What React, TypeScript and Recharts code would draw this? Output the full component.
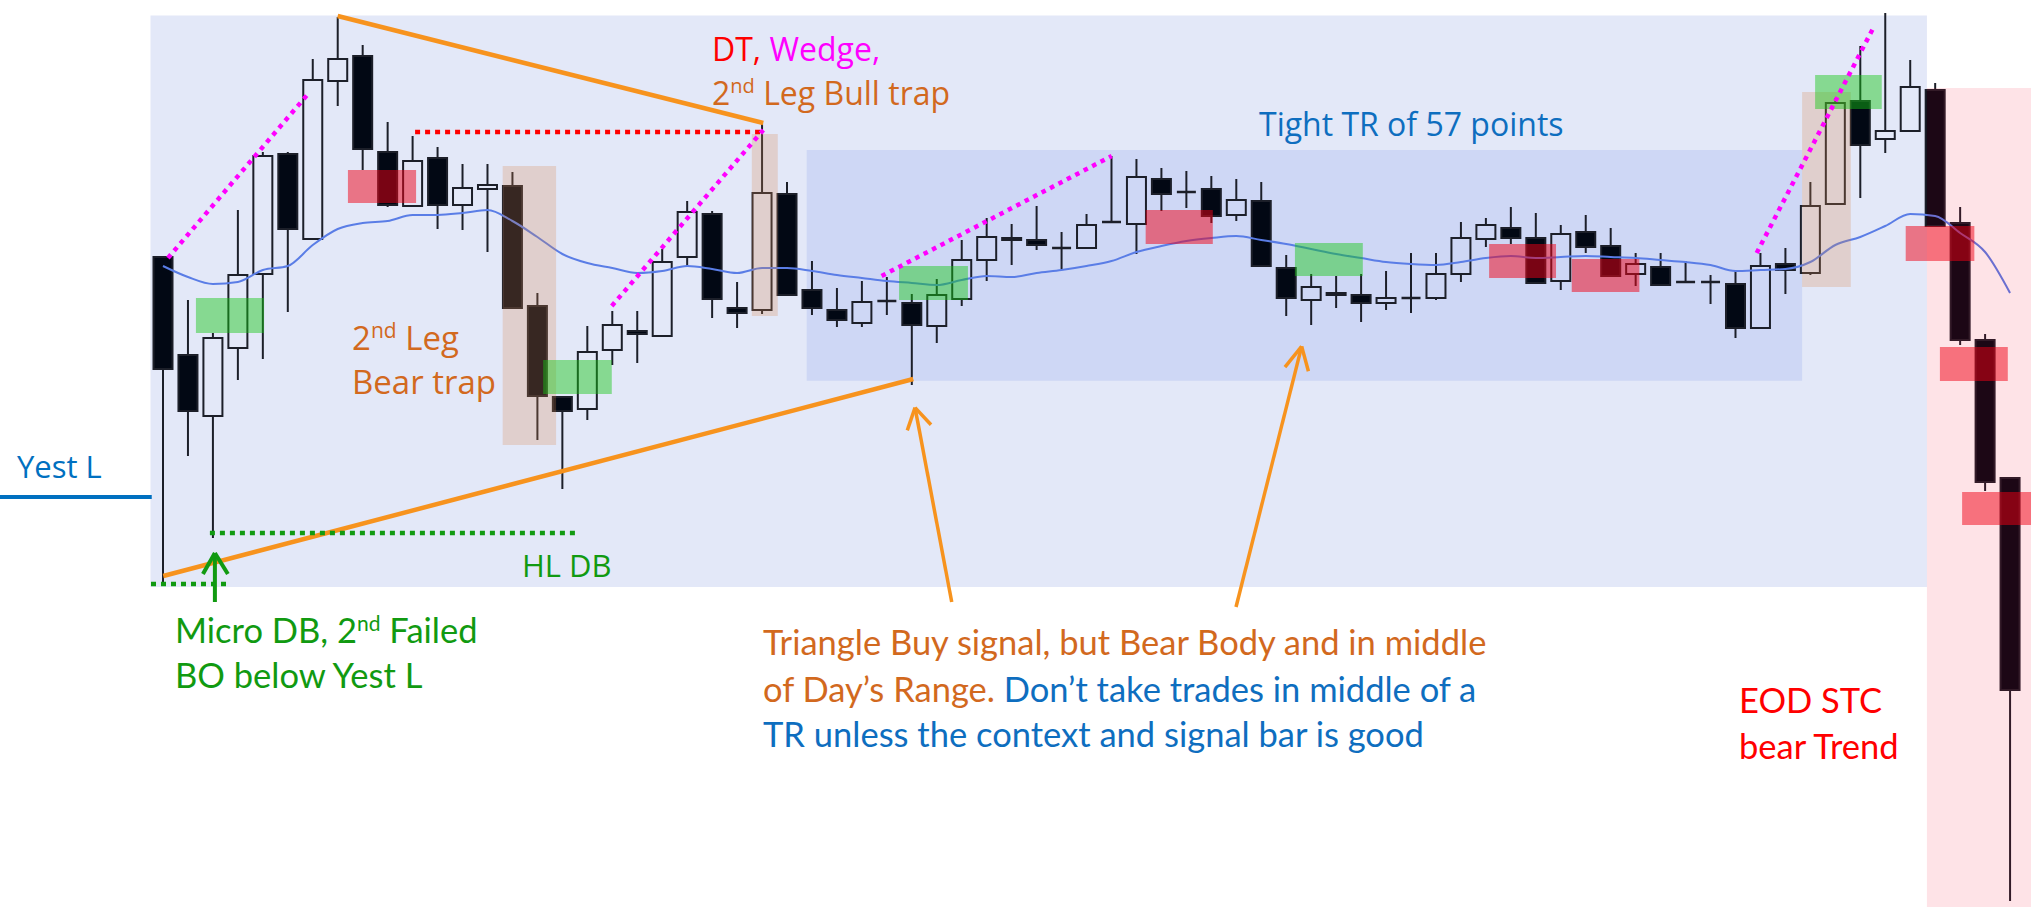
import { ComposedChart, Bar, Line, XAxis, YAxis, ReferenceArea, ReferenceLine } from 'recharts';

// 5-min bars, prices in points (0.25 tick)
const opens = [
  4135.75, 4111.25, 4096, 4113, 4131.5, 4161.5, 4140.25, 4179.75, 4186, 4162,
  4148.5, 4160.5, 4148.75, 4152.75, 4153.5, 4123.5, 4100.75, 4097.75, 4112.5, 4117.25,
  4116, 4135.75, 4146.5, 4123, 4122.5, 4151.5, 4127.5, 4122.5, 4119.25, 4124.5,
  4124.25, 4118.5, 4125.25, 4135, 4140.5, 4140, 4138, 4138, 4144.5, 4144,
  4155.25, 4152, 4152.75, 4146.25, 4149.75, 4133, 4125, 4126.75, 4126.25, 4124.25,
  4125.5, 4125.5, 4131.5, 4140.25, 4143, 4140.5, 4129.75, 4142, 4138.5, 4131.5,
  4133.25, 4129.5, 4129.5, 4129, 4118, 4134, 4131.75, 4149, 4174.75, 4165.25,
  4167.25, 4177.5, 4144.25, 4115, 4080.5,
];
const highs = [
  4135.75, 4125, 4116.75, 4147.5, 4162, 4162, 4185.25, 4195.75, 4188.75, 4169.5,
  4166, 4163.25, 4159, 4159, 4157, 4126.75, 4100.75, 4118.5, 4122.25, 4122.25,
  4137.75, 4149.75, 4147.25, 4129.5, 4169.25, 4154.5, 4134.75, 4128, 4129.75, 4130.75,
  4126.5, 4130.25, 4140, 4145.5, 4144, 4148.5, 4142, 4146.5, 4161, 4160.25,
  4158, 4157.25, 4156, 4155.25, 4154.5, 4136.25, 4131.5, 4131, 4131.5, 4132.25,
  4136.75, 4136.75, 4144.5, 4145.5, 4148.25, 4146.75, 4143.75, 4146.25, 4143, 4136.75,
  4136.75, 4134.75, 4131.25, 4132.25, 4136.75, 4138, 4154.5, 4175.5, 4188.5, 4196.75,
  4185, 4179.25, 4148.25, 4116.5, 4080.5,
];
const lows = [
  4053.5, 4086, 4065.5, 4105, 4110.25, 4122, 4140.25, 4173.5, 4157.5, 4148.25,
  4148.5, 4142.75, 4142.5, 4137, 4123, 4090, 4077.75, 4095, 4108.75, 4109.25,
  4116, 4133.5, 4120.5, 4118, 4121.5, 4126.25, 4121.25, 4118.25, 4118.25, 4121.25,
  4103.75, 4114.25, 4123.5, 4129.75, 4133.75, 4137.5, 4132.75, 4138, 4144.25, 4136.5,
  4147.25, 4148, 4144.25, 4144.75, 4133.5, 4121, 4118.75, 4123, 4119.5, 4122.5,
  4121.75, 4125, 4129.5, 4138.25, 4139, 4129.25, 4127.5, 4136.75, 4131, 4128.5,
  4128.75, 4129.25, 4124, 4115.5, 4117.75, 4126.5, 4131.25, 4149, 4150.5, 4161.75,
  4167.25, 4143.5, 4113.75, 4077.25, 3974.75,
];
const closes = [
  4107.75, 4097.25, 4115.5, 4131.25, 4161, 4142.75, 4180, 4185.25, 4162.75, 4148.75,
  4159.75, 4148.75, 4153, 4153.75, 4123, 4101, 4097.25, 4112, 4118.75, 4116.5,
  4134.5, 4147, 4125.25, 4121.75, 4151.75, 4126.25, 4123, 4120, 4124.5, 4124.75,
  4118.75, 4126.25, 4135, 4140.75, 4140, 4138.75, 4137.75, 4143.75, 4144.5, 4155.75,
  4151.5, 4152, 4146, 4150, 4133.5, 4125.5, 4128.25, 4126.25, 4124.25, 4125.5,
  4125.5, 4131.5, 4140.5, 4143.75, 4140.5, 4129.25, 4141.5, 4138.25, 4131, 4134,
  4128.75, 4129.5, 4129.5, 4118, 4133.5, 4132.5, 4148.5, 4174.25, 4163.75, 4167.25,
  4178.25, 4143.5, 4115, 4079.5, 4027.5,
];
const ema20 = [
  4133.5, 4130.75, 4129, 4129.5, 4132.5, 4133.5, 4138.75, 4142.75, 4144.25, 4144.75,
  4146.25, 4146.25, 4146.75, 4147.5, 4144.75, 4140.75, 4136.5, 4134.25, 4133, 4131.75,
  4132.25, 4133.5, 4132.75, 4131.75, 4133, 4133, 4132.25, 4131.25, 4130.5, 4129.75,
  4129.25, 4128.75, 4130, 4131, 4130.75, 4131.75, 4132.5, 4133.5, 4134.75, 4137,
  4138.5, 4139.75, 4140.5, 4141, 4140, 4139, 4137.75, 4136.5, 4135.5, 4134.5,
  4134, 4133.75, 4134.5, 4135.5, 4136, 4135.5, 4135.75, 4136, 4135.75, 4135.5,
  4135, 4134.5, 4133.75, 4132.25, 4132.5, 4132.75, 4134.5, 4138.75, 4140.75, 4143.5,
  4146.5, 4146, 4141.75, 4137, 4126.75,
];

// annotation zones [barFrom, barTo, priceLow, priceHigh]
const bullSignals = [
  [2.32, 5.05, 4116.75, 4125.5],
  [16.23, 18.98, 4101.5, 4110],
  [30.49, 33.25, 4125, 4133.5],
  [46.35, 49.07, 4131, 4139.25],
  [67.19, 69.86, 4172.75, 4181.25],
];
const bearSignals = [
  [8.41, 11.14, 4149.25, 4157.5],
  [40.37, 43.06, 4139, 4147.5],
  [54.13, 56.81, 4130.5, 4139],
  [57.44, 60.15, 4127, 4135.25],
  [70.82, 73.57, 4134.75, 4143.5],
  [72.19, 74.91, 4104.75, 4113.25],
  [73.08, 75.84, 4068.75, 4077],
];
const trapZones = [
  [14.61, 16.75, 4088.75, 4158.5],
  [24.59, 25.63, 4121, 4166.5],
  [66.67, 68.62, 4128.25, 4177],
];

// line annotations [x1, y1, x2, y2]
const triangleLines = [
  [8, 4196, 25.05, 4169.25],
  [1.01, 4056, 31.06, 4105.25],
];
const wedgeLines = [
  [1.2, 4135.5, 6.81, 4176.5],
  [18.98, 4123.5, 25.05, 4167.5],
  [29.79, 4131, 39.01, 4161],
  [64.85, 4136.75, 69.52, 4193],
];
const doubleTop = [11.1, 4167, 25.05, 4167];
const doubleBottoms = [
  [2.88, 4066.75, 17.58, 4066.75],
  [0.52, 4054, 3.69, 4054],
];
const yestLow = [-5.53, 4075.75, 0.55, 4075.75];

// arrows [tailX, tailY, tipX, tipY, armLX, armLY, armRX, armRY]
const greenArrows = [[3.08, 4049.5, 3.08, 4061.75, 2.6, 4056.5, 3.6, 4056.5]];
const orangeArrows = [
  [32.6, 4049.5, 31.13, 4098.1, 30.82, 4092.4, 31.77, 4093.8],
  [43.99, 4048.25, 46.62, 4113.4, 45.95, 4108.2, 46.89, 4107.2],
];

const data = opens.map((o, k) => ({
  i: k + 1,
  open: o,
  high: highs[k],
  low: lows[k],
  close: closes[k],
  range: [lows[k], highs[k]],
  ema: ema20[k],
}));

const GREEN = '#119a11';
const BROWN = '#d2691e';
const BLUE = '#0e6ebf';
const ORANGE = '#f7931e';

const Candle = (props: any) => {
  const { x, y, width, height, payload } = props;
  if (!payload) return null;
  const { open, close, high, low } = payload;
  const top = Math.min(y, y + height);
  const k = Math.abs(height) / (high - low);
  const py = (v: number) => top + (high - v) * k;
  const cx = x + width / 2;
  const bull = close >= open;
  const bTop = py(Math.max(open, close));
  const bBot = py(Math.min(open, close));
  const ink = '#1c1f29';
  return (
    <g>
      <line x1={cx} x2={cx} y1={py(high)} y2={bTop} stroke={ink} strokeWidth={2} />
      <line x1={cx} x2={cx} y1={bBot} y2={py(low)} stroke={ink} strokeWidth={2} />
      {bBot - bTop < 1.5 ? (
        <line x1={x} x2={x + width} y1={bTop} y2={bTop} stroke={ink} strokeWidth={2.5} />
      ) : (
        <rect x={x} y={bTop} width={width} height={bBot - bTop}
          fill={bull ? 'none' : '#020814'} stroke={ink} strokeWidth={2} />
      )}
    </g>
  );
};

const seg = (s: number[], key: string, stroke: string, w: number, dash?: string, z = 500) => (
  <ReferenceLine key={key} segment={[{ x: s[0], y: s[1] }, { x: s[2], y: s[3] }]}
    stroke={stroke} strokeWidth={w} strokeDasharray={dash} ifOverflow="visible" zIndex={z} />
);

const arrow = (a: number[], key: string, stroke: string, w: number) => [
  seg([a[0], a[1], a[2], a[3]], key + 's', stroke, w),
  seg([a[4], a[5], a[2], a[3]], key + 'l', stroke, w),
  seg([a[6], a[7], a[2], a[3]], key + 'r', stroke, w),
];

const zone = (z: number[], key: string, fill: string, op: number, zi: number) => (
  <ReferenceArea key={key} x1={z[0]} x2={z[1]} y1={z[2]} y2={z[3]}
    fill={fill} fillOpacity={op} stroke="none" ifOverflow="visible" zIndex={zi} />
);

export default function App() {
  const upper = { fontFamily: '"Open Sans", "Noto Sans", sans-serif' };
  const lower = { fontFamily: 'Lato, "Noto Sans", sans-serif' };
  return (
    <div style={{ position: 'absolute', left: 0, top: 0, width: 2044, height: 907, background: '#fff' }}>
      <ComposedChart width={2044} height={907} data={data}
        margin={{ top: 0, right: 9, bottom: 0, left: 150.5 }}>
        <XAxis dataKey="i" type="number" domain={[0.5, 76]} hide height={0} />
        <YAxis type="number" domain={[3973.25, 4200]} allowDataOverflow hide width={0} />

        {zone([0.5, 71.67, 4053.25, 4196.1], 'day', '#e3e8f8', 1, 50)}
        {zone([26.79, 66.67, 4104.8, 4162.5], 'tr', '#ced7f5', 1, 60)}

        <Bar dataKey="range" barSize={19} isAnimationActive={false}
          shape={(p: any) => <Candle {...p} />} />
        <Line dataKey="ema" type="monotone" stroke="#5a7de6" strokeWidth={2}
          dot={false} activeDot={false} isAnimationActive={false} />

        {zone([71.67, 75.84, 3973.25, 4178], 'eod', '#f50026', 0.11, 450)}
        {trapZones.map((z, k) => zone(z, 'trap' + k, '#d7844c', 0.25, 450))}
        {bullSignals.map((z, k) => zone(z, 'bull' + k, '#14c814', 0.45, 450))}
        {bearSignals.map((z, k) => zone(z, 'bear' + k, '#f00014', 0.5, 450))}

        {triangleLines.map((s, k) => seg(s, 'tri' + k, ORANGE, 4.5))}
        {seg(doubleTop, 'dt', '#ff0000', 4.5, '5 5')}
        {wedgeLines.map((s, k) => seg(s, 'wdg' + k, '#ff00ff', 4.5, '4.5 5'))}
        {doubleBottoms.map((s, k) => seg(s, 'db' + k, GREEN, 4.5, '5 5'))}
        {seg(yestLow, 'yl', '#0070c0', 4)}
        {greenArrows.map((a, k) => arrow(a, 'ga' + k, GREEN, 4))}
        {orangeArrows.map((a, k) => arrow(a, 'oa' + k, ORANGE, 3.5))}
      </ComposedChart>

      <svg width={2044} height={907} style={{ position: 'absolute', left: 0, top: 0, pointerEvents: 'none' }}>
        <g style={upper}>
          <text x={712} y={61} fontSize={32}>
            <tspan fill="#ff0000">DT,</tspan>
            <tspan fill="#ff00ff"> Wedge,</tspan>
          </text>
          <text x={712} y={105} fontSize={32} fill={BROWN}>
            2<tspan dy={-12} fontSize={20}>nd</tspan><tspan dy={12}> Leg Bull trap</tspan>
          </text>
          <text x={1259} y={136} fontSize={32} fill={BLUE}>Tight TR of 57 points</text>
          <text x={352} y={350} fontSize={33} fill={BROWN}>
            2<tspan dy={-12} fontSize={21}>nd</tspan><tspan dy={12}> Leg</tspan>
          </text>
          <text x={352} y={394} fontSize={33} fill={BROWN}>Bear trap</text>
          <text x={17} y={478} fontSize={31} fill="#0070c0">Yest L</text>
          <text x={522} y={577} fontSize={31} fill={GREEN}>HL DB</text>
        </g>
        <g style={lower}>
          <text x={175} y={643} fontSize={34.5} fill={GREEN}>
            Micro DB, 2<tspan dy={-12} fontSize={21}>nd</tspan><tspan dy={12}> Failed</tspan>
          </text>
          <text x={175} y={688} fontSize={34.5} fill={GREEN}>BO below Yest L</text>
          <text x={763} y={655} fontSize={34.5} fill={BROWN}>Triangle Buy signal, but Bear Body and in middle</text>
          <text x={763} y={702} fontSize={34.5}>
            <tspan fill={BROWN}>of Day’s Range.</tspan>
            <tspan fill={BLUE}> Don’t take trades in middle of a</tspan>
          </text>
          <text x={763} y={747} fontSize={34.5} fill={BLUE}>TR unless the context and signal bar is good</text>
          <text x={1739} y={713} fontSize={34.5} fill="#ff0000">EOD STC</text>
          <text x={1739} y={759} fontSize={34.5} fill="#ff0000">bear Trend</text>
        </g>
      </svg>
    </div>
  );
}
